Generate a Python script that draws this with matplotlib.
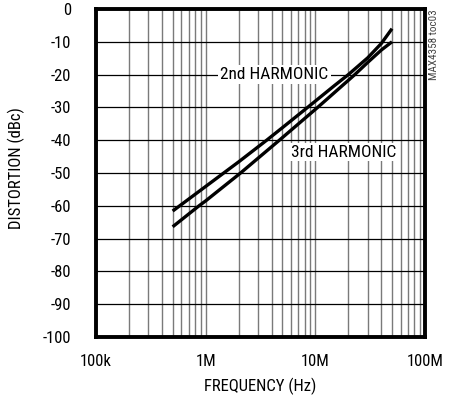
import matplotlib
matplotlib.use("Agg")
import matplotlib.pyplot as plt

plt.rcParams['font.family'] = ['Roboto Condensed', 'DejaVu Sans']

# Data
freq_2nd = [0.5e6, 1e6, 2e6, 3.6e6, 5e6, 8.5e6, 15e6, 20e6, 30e6, 40e6, 50e6]
dist_2nd = [-61.6, -54.1, -46.6, -40.0, -36.2, -30.0, -23.3, -20.0, -14.9, -10.5, -6.0]
freq_3rd = [0.5e6, 0.87e6, 1e6, 2.08e6, 4.7e6, 10.5e6, 22.9e6, 30e6, 40e6, 50e6]
dist_3rd = [-66.4, -60.0, -58.5, -50.0, -40.0, -30.0, -20.0, -16.3, -12.5, -10.0]

xticks = [1e5, 1e6, 1e7, 1e8]
xticklabels = ["100k", "1M", "10M", "100M"]
yticks = list(range(-100, 1, 10))

fig = plt.figure(figsize=(4.54, 4.0), dpi=100)
ax = fig.add_axes([96/454, 1-337/400, (425-96)/454, (337-9)/400])
ax.set_xscale('log')
ax.set_xlim(1e5, 1e8)
ax.set_ylim(-100, 0)

# grid
for dec in [1e5, 1e6, 1e7]:
    for m in range(1, 10):
        if dec * m > 1e5:
            ax.axvline(dec*m, color='#7a7a7a', lw=1.0, zorder=1)
for y in yticks[1:-1]:
    ax.axhline(y, color='#000000', lw=0.9, zorder=2)

ax.plot(freq_2nd, dist_2nd, color='black', lw=2.4, zorder=4, solid_capstyle='butt')
ax.plot(freq_3rd, dist_3rd, color='black', lw=2.4, zorder=4, solid_capstyle='butt')

ax.text(1.36e6, -20, "2nd HARMONIC", fontsize=12.5, ha='left', va='center', zorder=5,
        bbox=dict(facecolor='white', edgecolor='none', pad=1.5))
ax.text(6.0e6, -43.6, "3rd HARMONIC", fontsize=12.5, ha='left', va='center', zorder=5,
        bbox=dict(facecolor='white', edgecolor='none', pad=1.0))

ax.set_xticks(xticks)
ax.set_xticklabels(xticklabels)
ax.set_xticks([], minor=True)
ax.set_yticks(yticks)
ax.set_yticklabels([str(v) for v in yticks])
ax.tick_params(axis='both', length=0, labelsize=12)
ax.tick_params(axis='y', pad=18)
ax.tick_params(axis='x', pad=12)

for s in ax.spines.values():
    s.set_linewidth(2.8)
    s.set_zorder(6)

ax.set_xlabel("FREQUENCY (Hz)", fontsize=12)
ax.set_ylabel("DISTORTION (dBc)", fontsize=12)
ax.yaxis.set_label_coords(-(96-25)/329, 0.515)
ax.xaxis.set_label_coords(0.5, -(378-337)/328)

fig.text(434/454, 1-9/400, "MAX4358 toc03", rotation=90, fontsize=8, color='#444444',
         ha='center', va='top')

fig.savefig("out.png", dpi=100)
